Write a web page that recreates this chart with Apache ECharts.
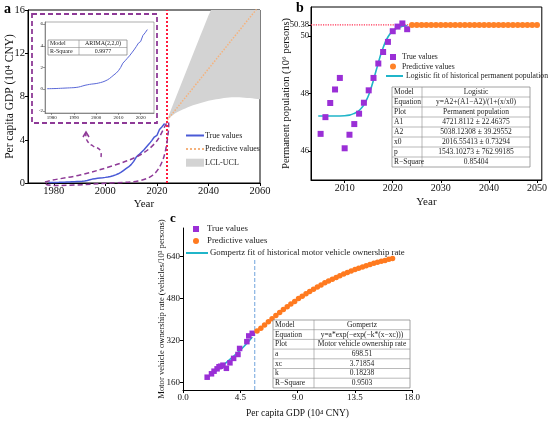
<!DOCTYPE html>
<html>
<head>
<meta charset="utf-8">
<title>GDP, population and vehicle ownership</title>
<script src="https://cdn.jsdelivr.net/npm/echarts@6/dist/echarts.min.js"></script>
<style>html,body{margin:0;padding:0;background:#fff;}</style>
</head>
<body>
<div id="main" style="width:550px;height:422px;"></div>
<script type="text/javascript">
// ---- panel a: per capita GDP (10^4 CNY) ----
var gdpYears = [1978, 1979, 1980, 1981, 1982, 1983, 1984, 1985, 1986, 1987, 1988, 1989, 1990, 1991, 1992, 1993,
    1994, 1995, 1996, 1997, 1998, 1999, 2000, 2001, 2002, 2003, 2004, 2005, 2006, 2007, 2008, 2009, 2010,
    2011, 2012, 2013, 2014, 2015, 2016, 2017, 2018, 2019, 2020, 2021, 2022, 2023];
var gdpTrue = [0.04, 0.045, 0.05, 0.055, 0.06, 0.07, 0.08, 0.09, 0.10, 0.11, 0.12, 0.13, 0.14, 0.16, 0.19, 0.24,
    0.30, 0.36, 0.40, 0.44, 0.47, 0.49, 0.52, 0.56, 0.61, 0.67, 0.75, 0.85, 0.98, 1.15, 1.32, 1.48, 1.70,
    2.00, 2.40, 2.62, 2.85, 3.08, 3.35, 3.62, 3.92, 4.25, 4.40, 4.95, 5.20, 5.50];
var predYears = [2024, 2025, 2026, 2027, 2028, 2029, 2030, 2031, 2032, 2033, 2034, 2035, 2036, 2037, 2038, 2039,
    2040, 2041, 2042, 2043, 2044, 2045, 2046, 2047, 2048, 2049, 2050, 2051, 2052, 2053, 2054, 2055, 2056,
    2057, 2058, 2059, 2060];
var gdpPred = [5.82, 6.12, 6.41, 6.71, 7.00, 7.30, 7.60, 7.89, 8.19, 8.48, 8.78, 9.08, 9.37, 9.67, 9.96, 10.26,
    10.56, 10.85, 11.15, 11.44, 11.74, 12.04, 12.33, 12.63, 12.92, 13.22, 13.52, 13.81, 14.11, 14.40, 14.70,
    15.00, 15.29, 15.59, 15.88, 16.18, 16.47];
var ciLower = [5.8, 6.05, 6.25, 6.42, 6.56, 6.68, 6.8, 6.9, 7.0, 7.1, 7.18, 7.26, 7.33, 7.4, 7.47, 7.53,
    7.6, 7.65, 7.7, 7.74, 7.78, 7.82, 7.85, 7.88, 7.9, 7.92, 7.93, 7.93, 7.92, 7.91, 7.89, 7.87, 7.85,
    7.83, 7.8, 7.77, 7.74];
var ciUpper = [5.8, 6.5, 7.1, 7.7, 8.3, 8.9, 9.5, 10.1, 10.7, 11.3, 11.9, 12.5, 13.1, 13.7, 14.3, 14.9,
    15.5, 16.0, 16.6, 17.2, 17.7, 18.3, 18.8, 19.4, 19.9, 20.5, 21.0, 21.5, 22.1, 22.6, 23.1, 23.6, 24.2,
    24.7, 25.2, 25.7, 26.2];
var cutYear = 2024;
var gdpTicks = [1980, 2000, 2020, 2040, 2060];
var insetTicksX = [1980, 1990, 2000, 2010, 2020];
var insetTicksY = [-2, 0, 2, 4, 6];

// ---- panel b: permanent population (10^6 persons) ----
var popYears = [2005, 2006, 2007, 2008, 2009, 2010, 2011, 2012, 2013, 2014, 2015, 2016, 2017, 2018, 2019,
    2020, 2021, 2022, 2023];
var popTrue = [46.6, 47.18, 47.67, 48.14, 48.54, 46.1, 46.57, 46.94, 47.3, 47.68, 48.11, 48.54, 49.04, 49.44,
    49.79, 50.16, 50.32, 50.43, 50.23];
var popFitYears = [2004.5, 2006, 2008, 2010, 2011, 2012, 2012.5, 2013, 2013.5, 2014, 2014.5, 2015, 2015.5,
    2016, 2016.5, 2017, 2017.5, 2018, 2018.5, 2019, 2019.5, 2020, 2021, 2022, 2023];
var popFit = [47.22, 47.22, 47.22, 47.23, 47.25, 47.31, 47.35, 47.41, 47.5, 47.61, 47.76, 47.95, 48.19,
    48.47, 48.77, 49.06, 49.35, 49.59, 49.8, 49.96, 50.08, 50.17, 50.28, 50.33, 50.36];
var popPredYears = [2024, 2025, 2026, 2027, 2028, 2029, 2030, 2031, 2032, 2033, 2034, 2035, 2036, 2037,
    2038, 2039, 2040, 2041, 2042, 2043, 2044, 2045, 2046, 2047, 2048, 2049, 2050];
var popPred = [50.38, 50.38, 50.38, 50.38, 50.38, 50.38, 50.38, 50.38, 50.38, 50.38, 50.38, 50.38, 50.38,
    50.38, 50.38, 50.38, 50.38, 50.38, 50.38, 50.38, 50.38, 50.38, 50.38, 50.38, 50.38, 50.38, 50.38];
var popRefYears = [2003, 2024];
var popRef = [50.38, 50.38];
var popTicksX = [2010, 2020, 2030, 2040, 2050];
var popTicksY = [46, 48, 50, 50.38];

// ---- panel c: motor vehicle ownership (vehicles/10^3 persons) ----
var carGdp = [1.9, 2.24, 2.44, 2.68, 2.83, 2.96, 3.14, 3.41, 3.69, 3.98, 4.32, 4.45, 5.02, 5.17, 5.44];
var carTrue = [179, 192, 202, 211, 219, 221, 225, 213, 234, 251, 266, 289, 315, 337, 347];
var carFitGdp = [1.85, 2.4, 2.9, 3.4, 3.9, 4.4, 4.9, 5.45];
var carFit = [176, 196, 215, 235, 256, 278, 302, 333];
var carPredGdp = gdpPred;
var carPred = [356, 366, 379, 391, 403, 415, 427, 438, 449, 459, 469, 480, 489, 498, 507, 516,
    524, 532, 540, 547, 554, 561, 567, 574, 580, 585, 591, 596, 601, 606, 610, 615, 619, 623, 626, 630, 633];
var carCutX = [5.64, 5.64];
var carCutY = [130, 628];
var carTicksY = [160, 320, 480, 640];

// ---- fit tables ----
var tableA = [['Model', 'ARIMA(2,2,0)'], ['R-Square', '0.9977']];
var tableB = [['Model', 'Logistic'], ['Equation', 'y=A2+(A1\u2212A2)/(1+(x/x0)'], ['Plot', 'Permanent population'],
    ['A1', '4721.8112 \u00b1 22.46375'], ['A2', '5038.12308 \u00b1 39.29552'], ['x0', '2016.55413 \u00b1 0.73294'],
    ['p', '1543.10273 \u00b1 762.99185'], ['R\u2212Square', '0.85404']];
var tableC = [['Model', 'Gompertz'], ['Equation', 'y=a*exp(\u2212exp(\u2212k*(x\u2212xc)))'],
    ['Plot', 'Motor vehicle ownership rate'], ['a', '698.51'], ['xc', '3.71854'], ['k', '0.18238'],
    ['R\u2212Square', '0.9503']];

var FONT = 'Liberation Serif';
var PURPLE = '#8e3a97';
var labelNames = {
    a_true: 'True values', a_pred: 'Predictive values', a_ci: 'LCL-UCL',
    b_true: 'True values', b_pred: 'Predictive values', b_fit: 'Logistic fit of historical permanent population',
    c_true: 'True values', c_pred: 'Predictive values', c_fit: 'Gompertz fit of historical motor vehicle ownership rate'
};

function zip(xs, ys) {
    return xs.map(function (x, i) { return [x, ys[i]]; });
}

function tableGraphic(x, y, w, c1, rowH, rows, fs) {
    var els = [];
    var h = rowH * rows.length;
    els.push({ type: 'rect', z: 100, shape: { x: x, y: y, width: w, height: h },
        style: { fill: '#fff', stroke: '#8c8c8c', lineWidth: 0.8 } });
    for (var i = 1; i < rows.length; i++) {
        els.push({ type: 'line', z: 101, shape: { x1: x, y1: y + rowH * i, x2: x + w, y2: y + rowH * i },
            style: { stroke: '#8c8c8c', lineWidth: 0.6 } });
    }
    els.push({ type: 'line', z: 101, shape: { x1: x + c1, y1: y, x2: x + c1, y2: y + h },
        style: { stroke: '#8c8c8c', lineWidth: 0.6 } });
    rows.forEach(function (r, i) {
        var cy = y + rowH * (i + 0.5);
        els.push({ type: 'text', z: 102, style: { text: r[0], x: x + 2, y: cy, fill: '#222',
            font: fs + 'px "' + FONT + '"', align: 'left', verticalAlign: 'middle' } });
        els.push({ type: 'text', z: 102, style: { text: r[1], x: x + c1 + (w - c1) / 2, y: cy, fill: '#222',
            font: fs + 'px "' + FONT + '"', align: 'center', verticalAlign: 'middle' } });
    });
    return els;
}

function plain(v) { return String(v); }

function valueAxis(grid, opt) {
    var fs = opt.fs || 10;
    var ax = {
        type: 'value', gridIndex: grid, min: opt.min, max: opt.max,
        axisLine: { show: true, onZero: false, lineStyle: { color: opt.lineColor || '#000', width: opt.lw || 1 } },
        axisTick: { show: true, length: opt.tick || 3, inside: false,
            lineStyle: { color: opt.lineColor || '#000', width: opt.lw || 1 } },
        axisLabel: { fontFamily: FONT, fontSize: fs, color: opt.labelColor || '#111', margin: opt.margin || 3,
            formatter: opt.formatter || plain },
        splitLine: { show: false },
        name: opt.name || '', nameLocation: 'middle', nameGap: opt.nameGap || 20, nameMoveOverlap: false,
        nameTextStyle: { fontFamily: FONT, fontSize: opt.nameFs || 11, color: '#111' }
    };
    if (opt.ticks) {
        ax.axisLabel.customValues = opt.ticks;
        ax.axisTick.customValues = opt.ticks;
    }
    if (opt.interval) ax.interval = opt.interval;
    return ax;
}

function legendText(fs, lh, pad) {
    return { fontFamily: FONT, fontSize: fs, lineHeight: lh, color: '#222', padding: [0, 0, 0, pad] };
}
function fmtLegend(n) { return labelNames[n]; }
var noSym = { opacity: 0 };

// confidence band as one polygon, placed through the axis scales
function renderBand(params, api) {
    if (params.dataIndex !== 0) return null;
    var pts = [];
    for (var i = 0; i < predYears.length; i++) pts.push(api.coord([predYears[i], ciUpper[i]]));
    for (var j = predYears.length - 1; j >= 0; j--) pts.push(api.coord([predYears[j], ciLower[j]]));
    var cs = params.coordSys;
    return {
        type: 'group',
        clipPath: { type: 'rect', shape: { x: cs.x, y: cs.y, width: cs.width, height: cs.height } },
        children: [{ type: 'polygon', shape: { points: pts }, style: { fill: '#d3d3d3', stroke: null } }]
    };
}

var chart = echarts.init(document.getElementById('main'), null, { renderer: 'canvas' });

var graphics = [];
graphics = graphics.concat(tableGraphic(48, 40, 79, 31, 7.5, tableA, 6));
graphics = graphics.concat(tableGraphic(392, 87, 138, 30, 10, tableB, 7.5));
graphics = graphics.concat(tableGraphic(273, 320, 137, 41, 9.7, tableC, 7.5));
graphics.push(
    { type: 'text', z: 110, style: { text: 'a', x: 4, y: 2, font: 'bold 14px "' + FONT + '"', fill: '#000' } },
    { type: 'text', z: 110, style: { text: 'b', x: 296, y: 1, font: 'bold 14px "' + FONT + '"', fill: '#000' } },
    { type: 'text', z: 110, style: { text: 'c', x: 170, y: 212, font: 'bold 13px "' + FONT + '"', fill: '#000' } },
    // dashed frame around the inset
    { type: 'rect', z: 110, shape: { x: 32, y: 14, width: 125, height: 109 },
        style: { fill: 'none', stroke: PURPLE, lineWidth: 1.8, lineDash: [5, 3] } },
    // dashed lasso around historical curve
    { type: 'polygon', z: 110, shape: { smooth: 0.35, points: [[45, 182], [80, 175], [115, 165], [140, 155],
        [156, 142], [168, 122], [167, 142], [162, 162], [153, 175], [138, 181], [110, 183], [75, 185], [48, 185]] },
        style: { fill: 'none', stroke: PURPLE, lineWidth: 1.5, lineDash: [5, 3] } },
    // curly arrow to inset
    { type: 'polyline', z: 110, shape: { smooth: 0.5, points: [[101, 157], [100, 150], [93, 146], [88, 142], [86, 137], [86, 133]] },
        style: { fill: 'none', stroke: PURPLE, lineWidth: 1.5, lineDash: [4, 3] } },
    { type: 'polyline', z: 110, shape: { points: [[83, 137], [86, 132], [89, 137]] },
        style: { fill: 'none', stroke: PURPLE, lineWidth: 1.5 } }
);

chart.setOption({
    animation: false,
    backgroundColor: '#fff',
    textStyle: { fontFamily: FONT },
    grid: [
        { left: 28, top: 10, width: 232, height: 173, show: true, borderColor: '#000', borderWidth: 1 },
        { left: 45, top: 22, width: 109, height: 91, show: true, borderColor: '#777', borderWidth: 0.6 },
        { left: 311, top: 7, width: 232, height: 173, show: true, borderColor: '#000', borderWidth: 1 },
        { left: 183, top: 228, width: 229, height: 162 }
    ],
    xAxis: [
        valueAxis(0, { min: 1970, max: 2060, ticks: gdpTicks, name: 'Year', nameGap: 16, fs: 10.5, nameFs: 11 }),
        valueAxis(1, { min: 1977, max: 2026, ticks: insetTicksX, fs: 5, tick: 2, lw: 0.6, lineColor: '#555', margin: 2 }),
        valueAxis(2, { min: 2003, max: 2051, ticks: popTicksX, name: 'Year', nameGap: 17, fs: 10, nameFs: 11 }),
        valueAxis(3, { min: 0, max: 18, interval: 4.5, name: 'Per capita GDP (10\u2074 CNY)', nameGap: 18,
            fs: 9, nameFs: 9.5, formatter: function (v) { return v.toFixed(1); } })
    ],
    yAxis: [
        valueAxis(0, { min: 0, max: 16, interval: 4, name: 'Per capita GDP (10\u2074 CNY)', nameGap: 12, fs: 10.5, nameFs: 11.5 }),
        valueAxis(1, { min: -2.2, max: 6.2, ticks: insetTicksY, fs: 5, tick: 2, lw: 0.6, lineColor: '#555', margin: 2 }),
        valueAxis(2, { min: 45, max: 51, ticks: popTicksY, name: 'Permanent population (10\u2076 persons)', nameGap: 19.5,
            fs: 8.6, nameFs: 10.5, margin: 2 }),
        valueAxis(3, { min: 130, max: 750, ticks: carTicksY, name: 'Motor vehicle ownership rate (vehicles/10\u00b3 persons)',
            nameGap: 17, fs: 9, nameFs: 8.6 })
    ],
    legend: [
        { data: [{ name: 'a_true', itemStyle: noSym }, { name: 'a_pred', itemStyle: noSym }, { name: 'a_ci', icon: 'rect' }],
            orient: 'vertical', left: 185, top: 131, padding: 0, itemWidth: 18, itemHeight: 8, itemGap: 4.6,
            formatter: fmtLegend, textStyle: legendText(8, 9, -4) },
        { data: ['b_true', 'b_pred'], orient: 'vertical', left: 390, top: 52.5, padding: 0, itemWidth: 6, itemHeight: 6,
            itemGap: 0.5, formatter: fmtLegend, textStyle: legendText(7.7, 9, 1) },
        { data: [{ name: 'b_fit', itemStyle: noSym }], orient: 'vertical', left: 385, top: 71.5, padding: 0,
            itemWidth: 17, itemHeight: 6, formatter: fmtLegend, textStyle: legendText(7.7, 9, -2) },
        { data: ['c_true', 'c_pred'], orient: 'vertical', left: 193, top: 224, padding: 0, itemWidth: 6, itemHeight: 6,
            itemGap: 2, formatter: fmtLegend, textStyle: legendText(8.8, 10, 3) },
        { data: [{ name: 'c_fit', itemStyle: noSym }], orient: 'vertical', left: 185, top: 248, padding: 0,
            itemWidth: 22, itemHeight: 7, formatter: fmtLegend, textStyle: legendText(8.8, 10, -3) }
    ],
    graphic: graphics,
    series: [
        // panel a
        { name: 'a_ci', type: 'custom', xAxisIndex: 0, yAxisIndex: 0, data: [[predYears[0], ciLower[0]]],
            renderItem: renderBand, itemStyle: { color: '#d3d3d3' }, z: 1, silent: true },
        { name: 'a_true', type: 'line', xAxisIndex: 0, yAxisIndex: 0, data: zip(gdpYears, gdpTrue),
            symbol: 'none', lineStyle: { color: '#4a5ad6', width: 1.5 }, itemStyle: { color: '#4a5ad6' }, z: 3,
            markLine: { silent: true, symbol: 'none', label: { show: false },
                lineStyle: { color: '#ff1a3c', type: 'dotted', width: 2 }, data: [{ xAxis: cutYear }] } },
        { name: 'a_pred', type: 'line', xAxisIndex: 0, yAxisIndex: 0, data: zip(predYears, gdpPred),
            symbol: 'none', lineStyle: { color: '#f5b27c', width: 1.5, type: 'dotted' }, itemStyle: { color: '#f5b27c' }, z: 3 },
        // inset
        { name: 'inset', type: 'line', xAxisIndex: 1, yAxisIndex: 1, data: zip(gdpYears, gdpTrue),
            symbol: 'none', lineStyle: { color: '#5a68d8', width: 1 } },
        // panel b
        { name: 'b_ref', type: 'line', xAxisIndex: 2, yAxisIndex: 2, data: zip(popRefYears, popRef),
            symbol: 'none', lineStyle: { color: '#ff3355', width: 1.2, type: 'dotted' }, z: 2 },
        { name: 'b_fit', type: 'line', xAxisIndex: 2, yAxisIndex: 2, data: zip(popFitYears, popFit), smooth: 0.3,
            symbol: 'none', lineStyle: { color: '#20b5c9', width: 1.6 }, itemStyle: { color: '#20b5c9' }, z: 3 },
        { name: 'b_true', type: 'scatter', xAxisIndex: 2, yAxisIndex: 2, data: zip(popYears, popTrue),
            symbol: 'rect', symbolSize: 6, itemStyle: { color: '#9a2fd6', opacity: 1 }, z: 4 },
        { name: 'b_pred', type: 'scatter', xAxisIndex: 2, yAxisIndex: 2, data: zip(popPredYears, popPred),
            symbol: 'circle', symbolSize: 6, itemStyle: { color: '#ff8228', opacity: 1 }, z: 4 },
        // panel c
        { name: 'c_cut', type: 'line', xAxisIndex: 3, yAxisIndex: 3, data: zip(carCutX, carCutY),
            symbol: 'none', lineStyle: { color: '#6fa3dc', width: 1, type: 'dashed' }, z: 2 },
        { name: 'c_fit', type: 'line', xAxisIndex: 3, yAxisIndex: 3, data: zip(carFitGdp, carFit), smooth: true,
            symbol: 'none', lineStyle: { color: '#20b5c9', width: 1.6 }, itemStyle: { color: '#20b5c9' }, z: 3 },
        { name: 'c_true', type: 'scatter', xAxisIndex: 3, yAxisIndex: 3, data: zip(carGdp, carTrue),
            symbol: 'rect', symbolSize: 5.5, itemStyle: { color: '#9a2fd6', opacity: 1 }, z: 4 },
        { name: 'c_pred', type: 'scatter', xAxisIndex: 3, yAxisIndex: 3, data: zip(carPredGdp, carPred),
            symbol: 'circle', symbolSize: 5.5, itemStyle: { color: '#ff7a1f', opacity: 1 }, z: 4 }
    ]
});
</script>
</body>
</html>
